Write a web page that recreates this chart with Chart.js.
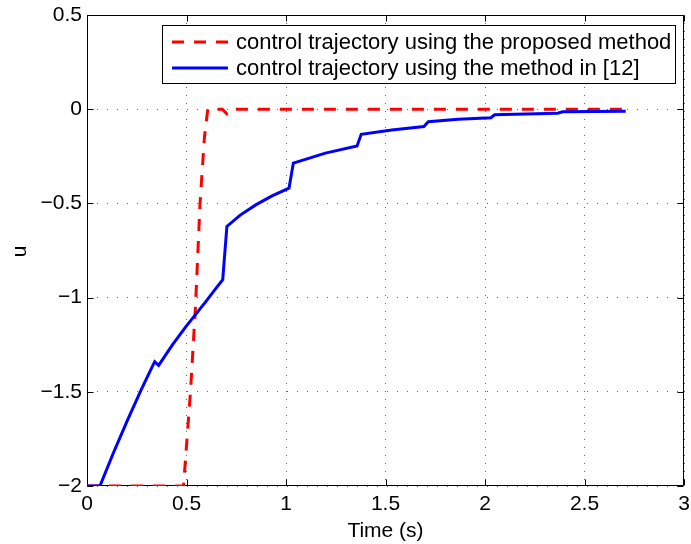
<!DOCTYPE html>
<html>
<head>
<meta charset="utf-8">
<script src="https://cdn.jsdelivr.net/npm/chart.js@4/dist/chart.umd.min.js"></script>
<style>
  html, body { margin: 0; padding: 0; background: #fff; }
  #wrap { width: 691px; height: 544px; }
</style>
</head>
<body>
<div id="wrap"><canvas id="c" width="691" height="544"></canvas></div>
<script>
// Axis ticks
const xTicks = [0, 0.5, 1, 1.5, 2, 2.5, 3];
const yTicks = [-2, -1.5, -1, -0.5, 0, 0.5];
const xTitle = 'Time (s)';
const yTitle = 'u';

// Series names
const seriesNames = [
  'control trajectory using the proposed method',
  'control trajectory using the method in [12]'
];

// Proposed method: control u over time
const proposedT = [0, 0.485, 0.52, 0.545, 0.568, 0.59, 0.607, 0.68, 0.703, 0.73, 2.70];
const proposedU = [-2, -2, -1.5, -1.05, -0.5, -0.15, 0, 0, -0.025, 0, 0];

// Method in [12]: control u over time
const refT = [0, 0.065, 0.134, 0.203, 0.272, 0.34, 0.36, 0.43, 0.498, 0.598, 0.64, 0.682, 0.703, 0.77, 0.848, 0.93, 1.015, 1.037, 1.198, 1.357, 1.378, 1.532, 1.693, 1.715, 1.865, 2.03, 2.048, 2.365, 2.39, 2.707];
const refU = [-2, -2, -1.821, -1.652, -1.49, -1.34, -1.36, -1.25, -1.153, -1.02, -0.962, -0.905, -0.622, -0.562, -0.508, -0.46, -0.419, -0.286, -0.233, -0.195, -0.133, -0.11, -0.092, -0.066, -0.053, -0.045, -0.03, -0.021, -0.014, -0.011];

const FONT_FAMILY = "'Liberation Sans', Arial, Helvetica, sans-serif";
const tickFont = { family: FONT_FAMILY, size: 21 };

const toPoints = (xs, ys) => xs.map((x, i) => ({ x: x, y: ys[i] }));
const fmt = v => String(v).replace('-', '\u2212');

// Box around the axes with inward tick marks, axis titles
const framePlugin = {
  id: 'frame',
  beforeDatasetsDraw(chart) {
    const { ctx, chartArea: a, scales } = chart;
    const L = Math.round(a.left) + 0.5, R = Math.round(a.right) - 0.5;
    const T = Math.round(a.top) + 0.5, B = Math.round(a.bottom) - 0.5;
    ctx.save();
    ctx.strokeStyle = '#000';
    ctx.lineWidth = 1;
    ctx.setLineDash([]);
    ctx.beginPath();
    ctx.rect(L, T, R - L, B - T);
    const len = 6;
    xTicks.forEach(v => {
      const px = Math.round(scales.x.getPixelForValue(v)) + 0.5;
      ctx.moveTo(px, B); ctx.lineTo(px, B - len);
      ctx.moveTo(px, T); ctx.lineTo(px, T + len);
    });
    yTicks.forEach(v => {
      const py = Math.round(scales.y.getPixelForValue(v)) + 0.5;
      ctx.moveTo(L, py); ctx.lineTo(L + len, py);
      ctx.moveTo(R, py); ctx.lineTo(R - len, py);
    });
    ctx.stroke();
    ctx.restore();
  },
  afterDraw(chart) {
    const { ctx, chartArea: a } = chart;
    ctx.save();
    ctx.fillStyle = '#000';
    ctx.font = `21px ${FONT_FAMILY}`;
    ctx.textAlign = 'center';
    ctx.textBaseline = 'alphabetic';
    ctx.fillText(xTitle, (a.left + a.right) / 2, 537);
    ctx.translate(25.5, (a.top + a.bottom) / 2 + 1);
    ctx.rotate(-Math.PI / 2);
    ctx.fillText(yTitle, 0, 0);
    ctx.restore();
  }
};

// Boxed legend inside the upper right of the axes
const legendPlugin = {
  id: 'boxLegend',
  afterDraw(chart) {
    const { ctx } = chart;
    const bx = 162.5, by = 25.5, bw = 513, bh = 58;
    ctx.save();
    ctx.fillStyle = '#fff';
    ctx.fillRect(bx, by, bw, bh);
    ctx.strokeStyle = '#000';
    ctx.lineWidth = 1;
    ctx.setLineDash([]);
    ctx.strokeRect(bx, by, bw, bh);
    const rows = [42, 68];
    chart.data.datasets.forEach((ds, i) => {
      const y = rows[i];
      ctx.beginPath();
      ctx.strokeStyle = ds.borderColor;
      ctx.lineWidth = ds.borderWidth;
      ctx.setLineDash(ds.borderDash || []);
      ctx.moveTo(172, y);
      ctx.lineTo(228, y);
      ctx.stroke();
      ctx.setLineDash([]);
      ctx.fillStyle = '#000';
      ctx.font = `22px ${FONT_FAMILY}`;
      ctx.textAlign = 'left';
      ctx.textBaseline = 'middle';
      ctx.fillText(ds.label, 236, y + 1);
    });
    ctx.restore();
  }
};

new Chart(document.getElementById('c'), {
  type: 'scatter',
  data: {
    datasets: [
      {
        label: seriesNames[0],
        data: toPoints(proposedT, proposedU),
        showLine: true,
        borderColor: '#ff0000',
        borderWidth: 3,
        borderDash: [12, 10],
        pointRadius: 0,
        fill: false,
        tension: 0,
        order: 1
      },
      {
        label: seriesNames[1],
        data: toPoints(refT, refU),
        showLine: true,
        borderColor: '#0000ff',
        borderWidth: 3,
        pointRadius: 0,
        fill: false,
        tension: 0,
        order: 0
      }
    ]
  },
  options: {
    responsive: false,
    animation: false,
    devicePixelRatio: 1,
    layout: { padding: { top: 15, right: 7, left: 0, bottom: 0 } },
    plugins: { legend: { display: false }, tooltip: { enabled: false } },
    scales: {
      x: {
        type: 'linear',
        min: 0, max: 3,
        afterBuildTicks: s => { s.ticks = xTicks.map(v => ({ value: v })); },
        afterFit: s => { s.height = 58; s.paddingLeft = 0; s.paddingRight = 0; },
        ticks: { font: tickFont, color: '#000', padding: 6, maxRotation: 0, autoSkip: false, callback: fmt },
        grid: { color: 'rgba(0,0,0,0.6)', lineWidth: 1, drawTicks: false },
        border: { display: false, dash: [1, 7] }
      },
      y: {
        type: 'linear',
        min: -2, max: 0.5,
        afterBuildTicks: s => { s.ticks = yTicks.map(v => ({ value: v })); },
        afterFit: s => { s.width = 87; s.paddingTop = 0; s.paddingBottom = 0; },
        ticks: { font: tickFont, color: '#000', padding: 5, autoSkip: false, callback: fmt },
        grid: { color: 'rgba(0,0,0,0.6)', lineWidth: 1, drawTicks: false },
        border: { display: false, dash: [1, 9] }
      }
    }
  },
  plugins: [framePlugin, legendPlugin]
});
</script>
</body>
</html>
